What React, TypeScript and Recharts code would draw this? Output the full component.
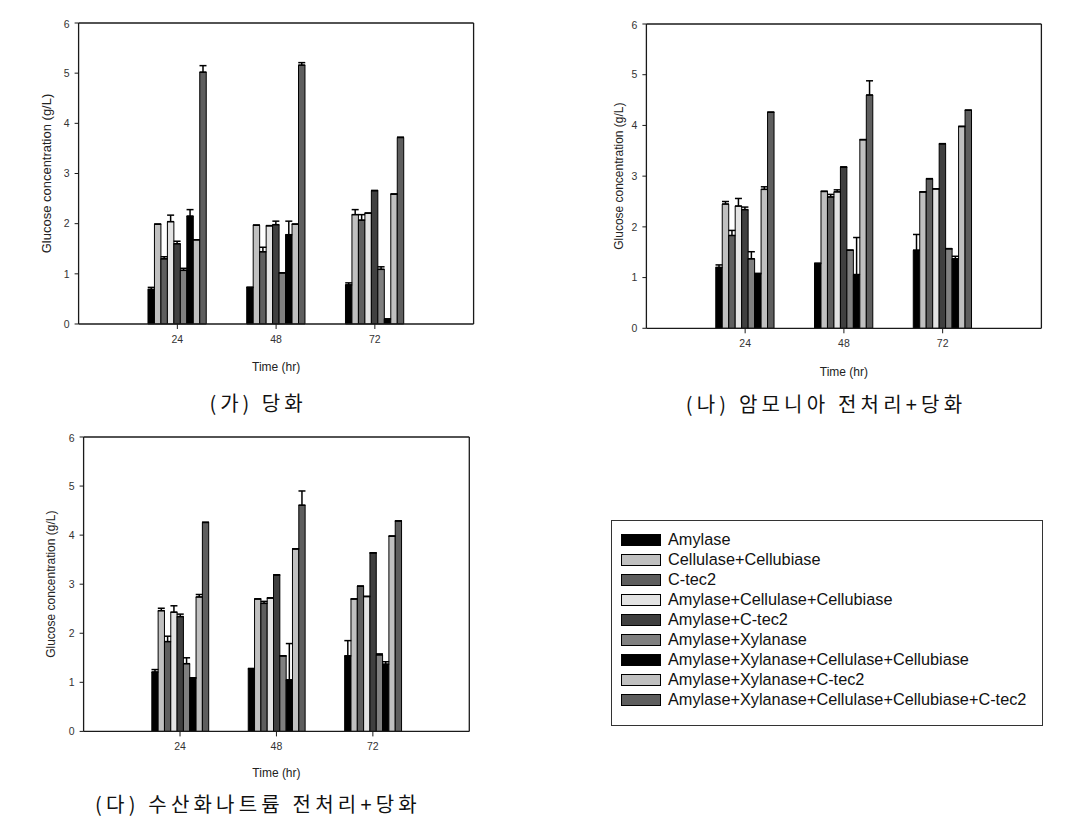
import { BarChart, Bar, XAxis, YAxis, ErrorBar } from "recharts";

const times = ["24", "48", "72"];
const yTicks = [0, 1, 2, 3, 4, 5, 6];

const enzymes = [
  "Amylase",
  "Cellulase+Cellubiase",
  "C-tec2",
  "Amylase+Cellulase+Cellubiase",
  "Amylase+C-tec2",
  "Amylase+Xylanase",
  "Amylase+Xylanase+Cellulase+Cellubiase",
  "Amylase+Xylanase+C-tec2",
  "Amylase+Xylanase+Cellulase+Cellubiase+C-tec2",
];

const fills = ["#000000", "#c0c0c0", "#5e5e5e", "#e3e3e3", "#404040", "#808080", "#000000", "#c0c0c0", "#5e5e5e"];

// (가) 당화 — glucose (g/L) per enzyme, and upper error
const ga24 = [0.69, 1.99, 1.3, 2.04, 1.6, 1.07, 2.15, 1.68, 5.02];
const ga48 = [0.73, 1.97, 1.44, 1.96, 1.98, 1.02, 1.78, 1.99, 5.16];
const ga72 = [0.78, 2.18, 2.07, 2.21, 2.66, 1.09, 0.1, 2.59, 3.72];
const ga24Err = [0.04, 0, 0.04, 0.13, 0.05, 0.04, 0.13, 0, 0.13];
const ga48Err = [0, 0, 0.09, 0, 0.07, 0, 0.27, 0, 0.05];
const ga72Err = [0.04, 0.1, 0.11, 0, 0, 0.05, 0, 0, 0];

// (나) 암모니아 전처리+당화
const na24 = [1.2, 2.45, 1.83, 2.41, 2.34, 1.37, 1.08, 2.74, 4.26];
const na48 = [1.28, 2.7, 2.59, 2.69, 3.18, 1.54, 1.06, 3.72, 4.6];
const na72 = [1.54, 2.69, 2.95, 2.75, 3.64, 1.57, 1.37, 3.98, 4.3];
const na24Err = [0.05, 0.05, 0.1, 0.15, 0.05, 0.14, 0, 0.05, 0];
const na48Err = [0, 0, 0.05, 0.04, 0, 0, 0.73, 0, 0.28];
const na72Err = [0.31, 0, 0, 0, 0, 0, 0.05, 0, 0];

// (다) 수산화나트륨 전처리+당화
const da24 = [1.21, 2.46, 1.83, 2.43, 2.34, 1.38, 1.09, 2.74, 4.26];
const da48 = [1.28, 2.7, 2.61, 2.72, 3.19, 1.54, 1.05, 3.72, 4.61];
const da72 = [1.54, 2.7, 2.96, 2.75, 3.64, 1.56, 1.37, 3.98, 4.29];
const da24Err = [0.05, 0.05, 0.11, 0.13, 0.05, 0.12, 0, 0.05, 0];
const da48Err = [0, 0, 0.04, 0, 0, 0, 0.74, 0, 0.29];
const da72Err = [0.31, 0, 0, 0, 0, 0.02, 0.05, 0, 0];

function buildRows(values: number[][], errors: number[][]) {
  return times.map((t, i) => {
    const row: Record<string, any> = { time: t };
    values[i].forEach((v, k) => {
      row[`s${k}`] = v;
      row[`e${k}`] = [0, errors[i][k]];
    });
    return row;
  });
}

const font = '"Liberation Sans", Arial, sans-serif';
const ink = "#1a1a1a";

type Frame = { x: number; y: number; w: number; h: number };

function Panel({
  rows,
  frame,
  yW,
  xH,
  tickGap,
  labelSize,
}: {
  rows: Record<string, any>[];
  frame: Frame;
  yW: number;
  xH: number;
  tickGap: number;
  labelSize: number;
}) {
  // top / right axes are 1px wide boxes, used only for the frame lines
  const mTop = 3;
  const mRight = 3;
  const width = yW + frame.w + 1 + mRight;
  const height = mTop + 1 + frame.h + xH;
  const band = frame.w / 4;
  const axisStyle = { stroke: ink, strokeWidth: 1.3 };
  return (
    <div style={{ position: "absolute", left: frame.x - yW, top: frame.y - mTop - 1 }}>
      <BarChart
        width={width}
        height={height}
        data={rows}
        margin={{ top: mTop, right: mRight, left: 0, bottom: 0 }}
        barSize={(band * 0.59) / 9}
        barGap={0}
      >
        <XAxis
          dataKey="time"
          padding={{ left: band / 2, right: band / 2 }}
          height={xH}
          tickSize={5}
          tickMargin={tickGap}
          axisLine={axisStyle}
          tickLine={{ stroke: ink }}
          tick={{ fontSize: 10.5, fill: "#333" }}
          label={{ value: "Time (hr)", position: "center", fontSize: 12, fill: "#222" }}
        />
        <XAxis
          xAxisId="top"
          orientation="top"
          dataKey="time"
          height={1}
          tick={false}
          tickLine={false}
          axisLine={axisStyle}
        />
        <YAxis
          domain={[0, 6]}
          ticks={yTicks}
          width={yW}
          tickSize={4}
          tickMargin={5}
          axisLine={axisStyle}
          tickLine={{ stroke: ink }}
          tick={{ fontSize: 10.5, fill: "#333" }}
          label={{
            value: "Glucose concentration (g/L)",
            angle: -90,
            position: "center",
            fontSize: labelSize,
            fill: "#222",
          }}
        />
        <YAxis
          yAxisId="r"
          orientation="right"
          width={1}
          domain={[0, 6]}
          ticks={yTicks}
          tick={false}
          tickLine={false}
          axisLine={axisStyle}
        />
        {enzymes.map((name, k) => (
          <Bar
            key={name}
            dataKey={`s${k}`}
            name={name}
            fill={fills[k]}
            stroke="#000"
            strokeWidth={1}
            isAnimationActive={false}
          >
            <ErrorBar dataKey={`e${k}`} direction="y" width={3.5} stroke="#000" strokeWidth={1.5} />
          </Bar>
        ))}
      </BarChart>
    </div>
  );
}

function Caption({ text, cx, cy, spacing }: { text: string; cx: number; cy: number; spacing: number }) {
  return (
    <div
      style={{
        position: "absolute",
        left: cx - 250,
        top: cy - 14,
        width: 500,
        textAlign: "center",
        fontFamily: '"Noto Sans CJK KR", sans-serif',
        fontSize: 20,
        lineHeight: "28px",
        letterSpacing: spacing,
        color: "#111",
        whiteSpace: "pre",
      }}
    >
      {text}
    </div>
  );
}

function LegendBox() {
  return (
    <div
      style={{
        position: "absolute",
        left: 611,
        top: 520,
        width: 432,
        height: 206,
        border: "1.5px solid #333",
        boxSizing: "border-box",
        fontFamily: font,
      }}
    >
      {enzymes.map((name, k) => (
        <div
          key={name}
          style={{
            position: "absolute",
            left: 9,
            top: 8.5 + k * 20,
            height: 20,
            display: "flex",
            alignItems: "center",
            whiteSpace: "nowrap",
          }}
        >
          <span
            style={{
              display: "inline-block",
              width: 40,
              height: 12,
              boxSizing: "border-box",
              border: "1px solid #000",
              background: fills[k],
            }}
          />
          <span style={{ marginLeft: 7, fontSize: 16.3, color: "#111" }}>{name}</span>
        </div>
      ))}
    </div>
  );
}

export default function App() {
  const gaRows = buildRows([ga24, ga48, ga72], [ga24Err, ga48Err, ga72Err]);
  const naRows = buildRows([na24, na48, na72], [na24Err, na48Err, na72Err]);
  const daRows = buildRows([da24, da48, da72], [da24Err, da48Err, da72Err]);
  return (
    <div
      style={{
        position: "absolute",
        left: 0,
        top: 0,
        width: 1082,
        height: 818,
        background: "#fff",
        fontFamily: font,
        overflow: "hidden",
      }}
    >
      <Panel rows={gaRows} frame={{ x: 79, y: 23.3, w: 395, h: 301 }} yW={64.6} xH={86} tickGap={7} labelSize={13} />
      <Panel rows={naRows} frame={{ x: 646, y: 24, w: 395, h: 304.3 }} yW={55.4} xH={86} tickGap={6} labelSize={12} />
      <Panel rows={daRows} frame={{ x: 83.3, y: 437.3, w: 385.7, h: 294.4 }} yW={66.6} xH={82} tickGap={6} labelSize={12} />
      <Caption text="(가) 당화" cx={258} cy={403} spacing={4} />
      <Caption text="(나) 암모니아 전처리+당화" cx={826} cy={404} spacing={4.2} />
      <Caption text="(다) 수산화나트륨 전처리+당화" cx={258} cy={804} spacing={4.2} />
      <LegendBox />
    </div>
  );
}
